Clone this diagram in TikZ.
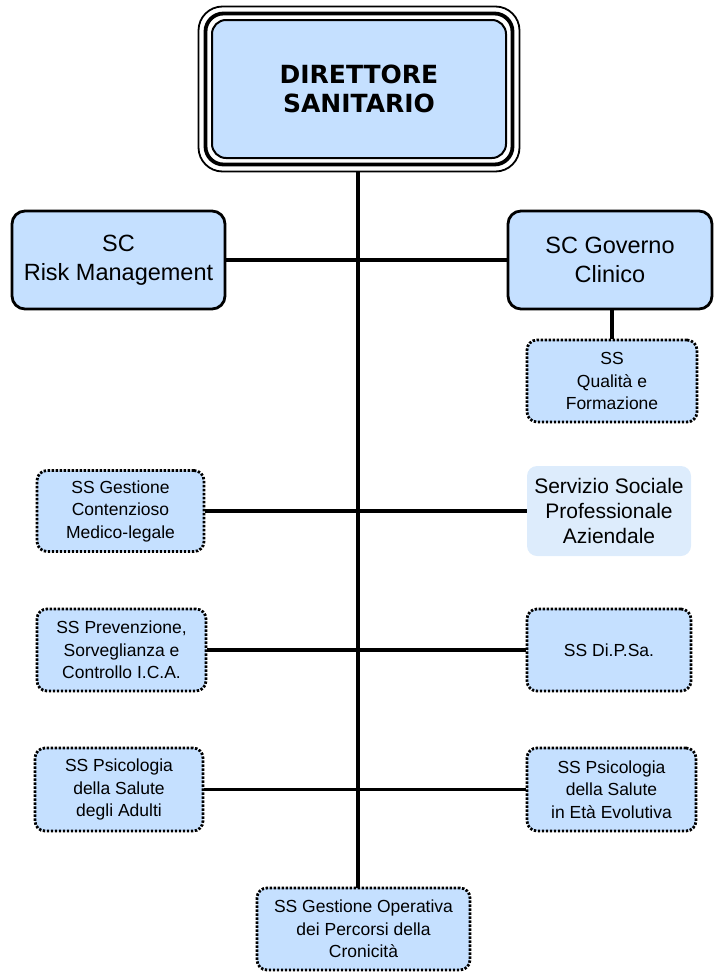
\documentclass[tikz,border=0pt]{standalone}
\usepackage{fontspec}
\setmainfont{Liberation Sans}
\newfontfamily\verd{DejaVu Sans}
\usetikzlibrary{fit}
\definecolor{boxblue}{RGB}{197,224,255}
\definecolor{paleblue}{RGB}{221,236,252}
\tikzset{
  bigbox/.style={draw=black, line width=2.8pt, fill=boxblue, rounded corners=13pt, align=center, font=\fontsize{23.5}{29}\selectfont, inner sep=0pt},
  ssbox/.style={draw=black, line width=2.8pt, dash pattern=on 2.4pt off 1.6pt, fill=boxblue, rounded corners=10pt, align=center, font=\fontsize{17.5}{22.5}\selectfont, inner sep=0pt},
  palebox/.style={fill=paleblue, rounded corners=10pt, align=center, font=\fontsize{21}{25}\selectfont, inner sep=0pt},
  link/.style={line width=3.6pt, draw=black}
}
\begin{document}
\begin{tikzpicture}[x=1pt,y=-1pt]
\useasboundingbox (0,0) rectangle (713,972);
% top box
\node[draw=black, line width=2pt, fill=boxblue, rounded corners=14pt, minimum width=294pt, minimum height=138pt, align=center, inner sep=0pt, font=\verd\bfseries\fontsize{25}{29}\selectfont] (dir) at (359,89) {DIRETTORE\\SANITARIO};
\node[fit=(dir), inner sep=5.5pt, draw=black, line width=3.8pt, rounded corners=18pt] (dirring) {};
\node[fit=(dir), inner sep=12.5pt, draw=black, line width=1.8pt, rounded corners=24pt] (dirouter) {};
% level 1
\node[bigbox, minimum width=213pt, minimum height=98pt] (risk) at (118.5,260) {SC\\Risk Management};
\node[bigbox, minimum width=204pt, minimum height=98pt] (gov) at (610,260) {SC Governo\\Clinico};
\node[ssbox, minimum width=170pt, minimum height=82pt] (qual) at (612,381) {SS\\Qualità e\\Formazione};
% rows
\node[ssbox, minimum width=167pt, minimum height=81pt] (cont) at (120.5,511) {SS Gestione\\Contenzioso\\Medico-legale};
\node[palebox, minimum width=164pt, minimum height=90pt] (serv) at (609,511) {Servizio Sociale\\Professionale\\Aziendale};
\node[ssbox, minimum width=169pt, minimum height=82pt] (prev) at (121.5,650) {SS Prevenzione,\\Sorveglianza e\\Controllo I.C.A.};
\node[ssbox, minimum width=164pt, minimum height=82pt] (dips) at (609,650) {SS Di.P.Sa.};
\node[ssbox, minimum width=168pt, minimum height=83pt] (adul) at (119,789.5) {SS Psicologia\\della Salute\\degli Adulti};
\node[ssbox, minimum width=169pt, minimum height=83pt] (evol) at (611.5,789.5) {SS Psicologia\\della Salute\\in Età Evolutiva};
\node[ssbox, minimum width=213pt, minimum height=82pt] (cron) at (363.5,929) {SS Gestione Operativa\\dei Percorsi della\\Cronicità};
% connectors
\coordinate (top) at (358,172);
\coordinate (bot) at (358,888);
\draw[link] (top) -- (bot);
\draw[link] (risk.east) -- (gov.west);
\draw[link] (gov.south -| qual.north) -- (qual.north);
\draw[link] (cont.east) -- (serv.west);
\draw[link] (prev.east) -- (dips.west);
\draw[link] (adul.east) -- (evol.west);
\end{tikzpicture}
\end{document}
